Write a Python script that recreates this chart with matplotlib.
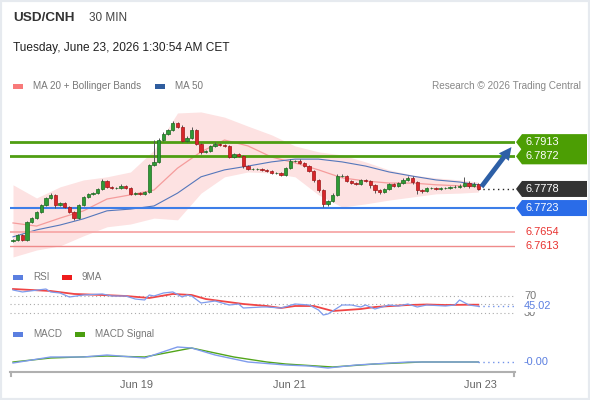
import numpy as np
import matplotlib
matplotlib.use("Agg")
import matplotlib.pyplot as plt
from matplotlib.patches import Polygon, Rectangle

plt.rcParams['font.family'] = ['Liberation Sans', 'DejaVu Sans']

# ---- data ----
closes = [6.7631, 6.7646, 6.7631, 6.7683, 6.7695, 6.7712, 6.7732, 6.7752, 6.7761, 6.7732,
          6.7738, 6.7726, 6.7712, 6.7695, 6.7732, 6.7755, 6.7764, 6.7766, 6.7778, 6.7801,
          6.7784, 6.7781, 6.7781, 6.7787, 6.7781, 6.7764, 6.7766, 6.7764, 6.7769, 6.7847,
          6.7856, 6.7919, 6.7936, 6.7948, 6.7968, 6.7957, 6.7916, 6.7925, 6.7948, 6.7908,
          6.7885, 6.7887, 6.7902, 6.7908, 6.7905, 6.7902, 6.7870, 6.7879, 6.7873, 6.7844,
          6.7836, 6.7836, 6.7836, 6.7833, 6.7830, 6.7824, 6.7824, 6.7818, 6.7838, 6.7859,
          6.7859, 6.7853, 6.7844, 6.7830, 6.7804, 6.7775, 6.7735, 6.7743, 6.7761, 6.7815,
          6.7815, 6.7801, 6.7795, 6.7792, 6.7804, 6.7801, 6.7790, 6.7775, 6.7769, 6.7778,
          6.7792, 6.7787, 6.7795, 6.7804, 6.7810, 6.7798, 6.7775, 6.7772, 6.7781, 6.7781,
          6.7778, 6.7781, 6.7781, 6.7784, 6.7784, 6.7787, 6.7795, 6.7787, 6.7792, 6.7778]
first_open = 6.7628
wick_up = [3, 3, 2, 4, 3, 3, 4, 3, 4, 3,
           3, 3, 2, 3, 4, 3, 3, 3, 4, 5,
           4, 3, 3, 4, 3, 3, 3, 3, 3, 4,
           63, 5, 5, 4, 5, 3, 4, 6, 8, 4,
           3, 3, 4, 5, 3, 4, 3, 4, 3, 3,
           3, 3, 3, 3, 3, 3, 3, 3, 4, 4,
           3, 4, 4, 3, 3, 3, 3, 3, 4, 5,
           5, 4, 3, 3, 4, 4, 3, 3, 3, 3,
           4, 3, 4, 5, 6, 4, 3, 3, 3, 3,
           3, 3, 3, 3, 4, 4, 18, 6, 7, 3]
wick_dn = [4, 3, 3, 3, 3, 3, 4, 3, 3, 10,
           4, 4, 4, 6, 3, 3, 3, 3, 3, 3,
           3, 3, 3, 3, 3, 4, 3, 3, 4, 4,
           3, 3, 3, 3, 3, 4, 4, 4, 3, 4,
           5, 3, 3, 3, 3, 3, 4, 4, 3, 6,
           4, 3, 3, 4, 3, 3, 3, 3, 3, 3,
           3, 3, 3, 4, 5, 5, 8, 6, 4, 3,
           3, 4, 4, 3, 3, 4, 8, 10, 5, 4,
           3, 4, 3, 3, 3, 6, 12, 5, 3, 3,
           3, 3, 3, 3, 3, 3, 3, 5, 4, 3]

band_idx = [0, 5, 10, 15, 20, 25, 30, 35, 40, 45, 50, 55, 60, 65, 70, 75, 80, 85, 90, 95, 99]
ma20 = [6.7680, 6.7671, 6.7694, 6.7715, 6.7749, 6.7761, 6.7775, 6.7838, 6.7885, 6.7919, 6.7902,
        6.7870, 6.7853, 6.7833, 6.7810, 6.7801, 6.7795, 6.7795, 6.7790, 6.7787, 6.7784]
ma50 = [6.7640, 6.7660, 6.7674, 6.7692, 6.7715, 6.7720, 6.7729, 6.7766, 6.7813, 6.7833, 6.7844,
        6.7856, 6.7864, 6.7864, 6.7856, 6.7844, 6.7827, 6.7815, 6.7804, 6.7798, 6.7790]
bb_upper = [6.7790, 6.7752, 6.7784, 6.7804, 6.7813, 6.7827, 6.7890, 6.7997, 6.8000, 6.7985, 6.7959,
            6.7934, 6.7902, 6.7885, 6.7876, 6.7856, 6.7833, 6.7818, 6.7810, 6.7804, 6.7798]
bb_lower = [6.7582, 6.7602, 6.7614, 6.7643, 6.7669, 6.7677, 6.7694, 6.7689, 6.7766, 6.7813, 6.7827,
            6.7824, 6.7813, 6.7761, 6.7726, 6.7735, 6.7746, 6.7755, 6.7764, 6.7766, 6.7769]

resistances = [6.7913, 6.7872]
pivot = 6.7723
supports = [6.7654, 6.7613]
last_price = 6.7778
arrow_target = 6.7905

rsi_idx = [0, 2, 7, 8, 10, 12, 15, 19, 21, 24, 26, 28, 29, 30, 32, 34, 36, 37, 38, 40, 43, 46,
           48, 49, 53, 54, 57, 60, 63, 65, 66, 67, 70, 72, 74, 75, 77, 80, 82, 84, 86, 88, 92,
           94, 95, 97, 99]
rsi = [84.3, 79.6, 86.7, 79.6, 77.1, 67.5, 72.3, 74.8, 69.9, 69.9, 62.7, 60.3, 72.3, 69.9,
       77.1, 79.6, 67.5, 72.3, 69.9, 53.1, 57.9, 48.3, 50.7, 41.1, 43.5, 43.5, 41.1, 50.7,
       48.3, 36.3, 24.3, 26.7, 48.3, 48.3, 43.5, 48.3, 38.7, 48.3, 45.9, 50.7, 43.5, 48.3,
       45.9, 48.3, 60.3, 48.3, 45.02]
ma9_idx = [0, 8, 13, 19, 24, 29, 34, 38, 41, 49, 54, 57, 60, 64, 68, 74, 77, 84, 88, 92, 97, 99]
rsi_ma9 = [86.7, 81.9, 74.8, 72.3, 69.9, 65.1, 74.8, 72.3, 62.7, 50.7, 45.9, 41.1, 45.9, 45.9,
           33.9, 38.7, 43.5, 48.3, 49.5, 48.3, 49.0, 49.0]

macd_idx = [0, 8, 15, 20, 28, 35, 38, 43, 50, 58, 63, 67, 73, 84, 99]
macd = [-0.0002, 0.0010, 0.0010, 0.0014, 0.0008, 0.0030, 0.0028, 0.0014, 0.0, -0.0006,
        -0.0008, -0.0012, -0.0006, 0.0, 0.0]
sig_idx = [0, 8, 20, 28, 38, 47, 54, 58, 68, 77, 87, 99]
macd_signal = [0.0, 0.0008, 0.0012, 0.0010, 0.0028, 0.0010, 0.0, -0.0004, -0.0010, -0.0004, 0.0, 0.0]

tick_pos = [26.2, 58.9, 99.4]
tick_labels = ['Jun 19', 'Jun 21', 'Jun 23']

# ---- layout helpers (pixels) ----
W, H = 590, 400
fig = plt.figure(figsize=(W / 100, H / 100), dpi=100)
fig.patch.set_facecolor('white')

def box(l, t, r, b):
    return [l / W, 1 - b / H, (r - l) / W, (b - t) / H]

def ftext(x, y, s, **kw):
    kw.setdefault('va', 'center')
    fig.text(x / W, 1 - y / H, s, **kw)

def swatch(x, y, color):
    fig.add_artist(Rectangle((x / W, 1 - (y + 2.5) / H), 10 / W, 5 / H,
                             transform=fig.transFigure, color=color, lw=0))

# light frame round the chart
fig.add_artist(Rectangle((0, 0), 1, 1, transform=fig.transFigure, fill=False,
                         ec='#e6eaef', lw=3))

xlim = (-0.64, 106.8)
ax = fig.add_axes(box(10, 105, 515, 258))
rax = fig.add_axes(box(10, 285, 515, 316))
max_ = fig.add_axes(box(10, 340, 515, 372))
for a in (ax, rax, max_):
    a.set_xlim(*xlim)
    for s in a.spines.values():
        s.set_visible(False)
    a.set_xticks([])
    a.set_yticks([])
    a.set_facecolor('none')

# ---- main price panel ----
ylo, yhi = 6.7579, 6.8020
ax.set_ylim(ylo, yhi)
per_px = (yhi - ylo) / (258 - 105)

ax.fill_between(band_idx, bb_lower, bb_upper, color='#fde2e2', lw=0, zorder=1)
ax.plot(band_idx, ma20, color='#f59c9c', lw=0.9, zorder=2)
ax.plot(band_idx, ma50, color='#5577bb', lw=0.8, zorder=2)

for r in resistances:
    ax.axhline(r, color='#4f9e12', lw=2, zorder=3)
ax.axhline(pivot, color='#3d7ee8', lw=1.5, zorder=3)
ax.axhline(supports[0], color='#f7a8a8', lw=1.3, zorder=3)
ax.axhline(supports[1], color='#ef8a8a', lw=1, zorder=3)

idx = np.arange(len(closes))
c = np.array(closes)
o = np.concatenate([[first_open], c[:-1]])
hi = np.maximum(o, c) + np.array(wick_up) * 0.0001
lo = np.minimum(o, c) - np.array(wick_dn) * 0.0001
up = c >= o
ax.vlines(idx, lo, hi, color='#555555', lw=0.7, zorder=4)
ax.bar(idx, c - o, bottom=o, width=0.7,
       color=np.where(up, '#2f9a35', '#d8262b'),
       edgecolor=np.where(up, '#1d6b22', '#a01818'), lw=0.5, zorder=5)

# dotted line from last price to its tag
ax.plot([idx[-1], xlim[1]], [last_price, last_price], color='#222222', lw=1,
        ls=(0, (1, 2.5)), zorder=3, clip_on=False)

ax.annotate('', xy=(xlim[1] - 0.4, arrow_target), xytext=(idx[-1] + 0.3, last_price),
            arrowprops=dict(arrowstyle='simple,head_width=0.9,head_length=0.9,tail_width=0.35',
                            color='#2d5fa6', lw=0), zorder=6)

yt = ax.get_yaxis_transform()
tip = 1 + 1 / 505
corner = (522 - 10) / 505
right = (587 - 10) / 505

def tag(y, text, face):
    h = 8 * per_px
    ax.add_patch(Polygon([(tip, y), (corner, y + h), (right, y + h), (right, y - h), (corner, y - h)],
                         closed=True, transform=yt, clip_on=False, fc=face, ec='none'))
    ax.text((525 - 10) / 505, y, text, transform=yt, va='center', ha='left', color='white',
            fontsize=7.9)

tag(resistances[0], f'{resistances[0]:.4f}', '#4c9e04')
tag(resistances[1], f'{resistances[1]:.4f}', '#4c9e04')
tag(last_price, f'{last_price:.4f}', '#333333')
tag(pivot, f'{pivot:.4f}', '#2a6ce8')
for s in supports:
    ax.text((525 - 10) / 505, s, f'{s:.4f}', transform=yt, va='center', ha='left',
            color='#e8322f', fontsize=7.9)

# ---- RSI panel ----
rax.set_ylim(21.9, 96.3)
for lvl in (70, 50, 30):
    rax.axhline(lvl, color='#aaaaaa', lw=0.8, ls=(0, (1, 2.5)))
rax.plot(ma9_idx, rsi_ma9, color='#f04545', lw=1.3)
rax.plot(rsi_idx, rsi, color='#7f9ced', lw=0.9)
rax.plot([rsi_idx[-1], xlim[1]], [rsi[-1], rsi[-1]], color='#7394ea', lw=1, ls=(0, (1, 2.5)),
         clip_on=False)
ryt = rax.get_yaxis_transform()
lx = (524 - 10) / 505
rax.text(lx, 70, '70', transform=ryt, va='center', color='#777777', fontsize=7.9)
rax.text(lx, 30, '30', transform=ryt, va='center', color='#777777', fontsize=7.9)
rax.text(lx, rsi[-1], f'{rsi[-1]:.2f}', transform=ryt, va='center', color='#5b7fe0', fontsize=7.9,
         bbox=dict(fc='white', ec='none', pad=0.3))

# ---- MACD panel ----
max_.set_ylim(-0.0020, 0.0044)
max_.plot(sig_idx, macd_signal, color='#52a51a', lw=1)
max_.plot(macd_idx, macd, color='#7f9ced', lw=1)
max_.plot([macd_idx[-1], xlim[1]], [macd[-1], macd[-1]], color='#7394ea', lw=1, ls=(0, (1, 2.5)),
          clip_on=False)
myt = max_.get_yaxis_transform()
max_.text(lx, macd[-1], '-0.00', transform=myt, va='center', color='#5b7fe0', fontsize=7.9)

max_.spines['bottom'].set_visible(True)
max_.spines['bottom'].set_color('#b0b0b0')
max_.spines['bottom'].set_linewidth(1.5)
max_.set_xticks(tick_pos)
max_.set_xticklabels(tick_labels, color='#666666', fontsize=7.9)
max_.tick_params(axis='x', length=0, pad=6)
for xe in (0.002, 0.998):
    max_.plot([xe, xe], [0, -0.12], transform=max_.transAxes, color='#b0b0b0', lw=1.5,
              clip_on=False)

# ---- header and legends ----
ftext(13, 18, 'USD/CNH', fontsize=9.7, fontweight='bold', color='#333333')
ftext(89, 18, '30 MIN', fontsize=8.5, color='#444444')
ftext(13, 48, 'Tuesday, June 23, 2026 1:30:54 AM CET', fontsize=8.6, color='#222222')

swatch(13, 86, '#f87a7a')
ftext(33, 86, 'MA 20 + Bollinger Bands', fontsize=7.1, color='#777777')
swatch(155, 86, '#2f5d9e')
ftext(175, 86, 'MA 50', fontsize=7.1, color='#777777')
ftext(581, 86, 'Research \u00a9 2026 Trading Central', fontsize=7.2, color='#888888', ha='right')

swatch(13, 277, '#5b7fe0')
ftext(33, 277, 'RSI', fontsize=7.1, color='#777777')
swatch(62, 277, '#ee1c1c')
ftext(82, 277, '9MA', fontsize=7.1, color='#777777')

swatch(13, 334, '#5b7fe0')
ftext(33, 334, 'MACD', fontsize=7.1, color='#777777')
swatch(75, 334, '#4a9e10')
ftext(95, 334, 'MACD Signal', fontsize=7.1, color='#777777')

fig.savefig('out.png', dpi=100)
